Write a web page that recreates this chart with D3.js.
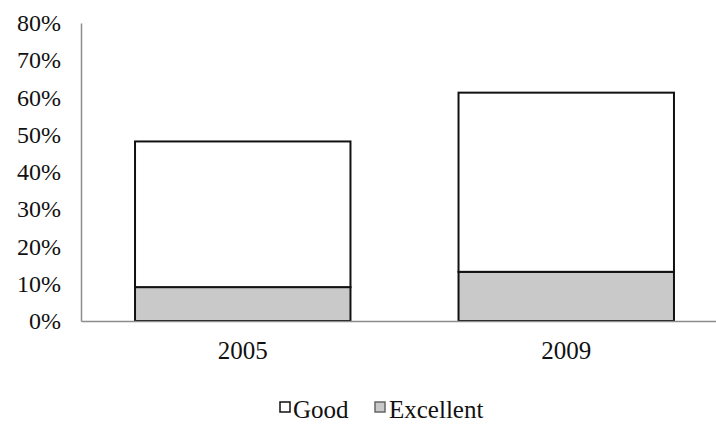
<!DOCTYPE html>
<html>
<head>
<meta charset="utf-8">
<script src="https://cdn.jsdelivr.net/npm/d3@7"></script>
<style>
  html, body { margin: 0; padding: 0; background: #fff; }
  svg { display: block; font-family: "Liberation Serif", "Times New Roman", serif; }
</style>
</head>
<body>
<div id="chart"></div>
<script>
const years = ["2005", "2009"];
const excellentValues = [0.091, 0.132];
const goodValues = [0.391, 0.481];
const seriesNames = ["Excellent", "Good"];
const yTicks = [0, 0.1, 0.2, 0.3, 0.4, 0.5, 0.6, 0.7, 0.8];

const seriesFill = { "Excellent": "#c9c9c9", "Good": "#ffffff" };

const width = 716;
const height = 424;
const margin = { top: 23, right: 0, bottom: 103, left: 81 };
const innerHeight = height - margin.top - margin.bottom;

const svg = d3.select("#chart")
  .append("svg")
  .attr("width", width)
  .attr("height", height);

const g = svg.append("g")
  .attr("transform", `translate(${margin.left},${margin.top})`);

// table pour d3.stack
const table = years.map((y, i) => ({
  year: y,
  Excellent: excellentValues[i],
  Good: goodValues[i]
}));

const stacked = d3.stack().keys(seriesNames)(table);

// la zone de tracé déborde un peu à droite, comme sur l'original
const x = d3.scaleBand()
  .domain(years)
  .range([0, 647])
  .paddingInner(0.334)
  .paddingOuter(0.167);

const y = d3.scaleLinear()
  .domain([0, 0.8])
  .range([innerHeight, 0]);

// Axe Y
const yAxis = g.append("g")
  .call(d3.axisLeft(y).tickValues(yTicks).tickFormat(d3.format(".0%")).tickSize(0).tickPadding(20));
yAxis.select(".domain").attr("stroke", "#8c8c8c").attr("stroke-width", 1.5);
yAxis.selectAll("text")
  .style("font-size", "24px")
  .attr("fill", "#111")
  .style("font-family", "'Liberation Serif', serif");

// Barres
g.selectAll(".serie")
  .data(stacked)
  .enter()
  .append("g")
  .attr("class", "serie")
  .attr("fill", d => seriesFill[d.key])
  .selectAll("rect")
  .data(d => d)
  .enter()
  .append("rect")
  .attr("x", d => x(d.data.year))
  .attr("y", d => y(d[1]))
  .attr("width", x.bandwidth())
  .attr("height", d => y(d[0]) - y(d[1]))
  .attr("stroke", "#111")
  .attr("stroke-width", 2);

// Axe X
const xAxis = g.append("g")
  .attr("transform", `translate(0,${innerHeight})`)
  .call(d3.axisBottom(x).tickSize(0).tickPadding(20));
xAxis.select(".domain").attr("stroke", "#8c8c8c").attr("stroke-width", 1.5);
xAxis.selectAll("text")
  .style("font-size", "25px")
  .attr("fill", "#111")
  .style("font-family", "'Liberation Serif', serif");

// Légende
const legendItems = [
  { name: "Good", x: 280 },
  { name: "Excellent", x: 375 }
];

const legend = svg.selectAll(".legend")
  .data(legendItems)
  .enter()
  .append("g")
  .attr("class", "legend")
  .attr("transform", d => `translate(${d.x},402)`);

legend.append("rect")
  .attr("width", 10)
  .attr("height", 10)
  .attr("fill", d => seriesFill[d.name])
  .attr("stroke", d => d.name === "Good" ? "#111" : "#666")
  .attr("stroke-width", 1.5);

legend.append("text")
  .attr("x", d => d.name === "Good" ? 13 : 14)
  .attr("y", 16)
  .style("font-size", "25px")
  .attr("fill", "#111")
  .text(d => d.name);
</script>
</body>
</html>
